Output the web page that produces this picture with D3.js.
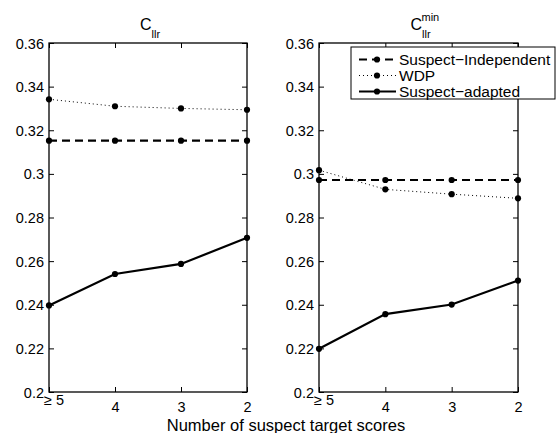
<!DOCTYPE html>
<html>
<head>
<meta charset="utf-8">
<title>Cllr vs number of suspect target scores</title>
<script src="https://d3js.org/d3.v7.min.js"></script>
<style>
  body { margin: 0; background: #fff; }
  svg text, svg tspan { font-family: "Liberation Sans", Arial, sans-serif; fill: #000; }
</style>
</head>
<body>
<div id="chart"></div>
<script>
// categories on the x axis
const categories = ["≥ 5", "4", "3", "2"];
const yTicks = [0.2, 0.22, 0.24, 0.26, 0.28, 0.3, 0.32, 0.34, 0.36];

// left panel: Cllr
const cllrIndependent = [0.3152, 0.3152, 0.3152, 0.3152];
const cllrWDP = [0.3342, 0.331, 0.3300, 0.3294];
const cllrAdapted = [0.2397, 0.2541, 0.2587, 0.2707];

// right panel: Cllr min
const minIndependent = [0.2972, 0.2972, 0.2972, 0.2972];
const minWDP = [0.3017, 0.2929, 0.2907, 0.2888];
const minAdapted = [0.2198, 0.2357, 0.2401, 0.2511];

const seriesNames = ["Suspect\u2212Independent", "WDP", "Suspect\u2212adapted"];
const seriesStyle = [
  {width: 2.2, dash: "8,5", color: "#000"},
  {width: 1, dash: "1,3", color: "#000"},
  {width: 2.2, dash: null, color: "#000"}
];

const W = 558, H = 433;
const svg = d3.select("#chart").append("svg").attr("width", W).attr("height", H);

const plotTop = 43, plotBottom = 392;
const y = d3.scaleLinear().domain([0.2, 0.36]).range([plotBottom, plotTop]);

function panel(x0, x1, series, titleSub, titleSup) {
  const x = d3.scalePoint().domain(categories).range([x0, x1]);
  const g = svg.append("g");

  // lines and markers
  series.forEach((vals, i) => {
    const st = seriesStyle[i];
    const line = d3.line().x((d, j) => x(categories[j])).y(d => y(d));
    g.append("path").datum(vals)
      .attr("d", line).attr("fill", "none")
      .attr("stroke", st.color).attr("stroke-width", st.width)
      .attr("stroke-dasharray", st.dash);
    g.selectAll(null).data(vals).enter().append("circle")
      .attr("cx", (d, j) => x(categories[j])).attr("cy", d => y(d))
      .attr("r", 3.1).attr("fill", "#000");
  });

  // box
  g.append("rect").attr("x", x0).attr("y", plotTop)
    .attr("width", x1 - x0).attr("height", plotBottom - plotTop)
    .attr("fill", "none").attr("stroke", "#000").attr("stroke-width", 1.3);

  // y axis (ticks inside)
  const yl = g.append("g").attr("transform", `translate(${x0},0)`)
    .call(d3.axisLeft(y).tickValues(yTicks).tickSize(-5).tickPadding(5)
      .tickFormat(d => d3.format("")(+d.toFixed(2))));
  yl.select(".domain").remove();
  yl.selectAll("text").attr("font-size", 14.5).attr("dy", "0.35em");
  const yr = g.append("g").attr("transform", `translate(${x1},0)`)
    .call(d3.axisRight(y).tickValues(yTicks).tickSize(-5).tickFormat(""));
  yr.select(".domain").remove();

  // x axis
  const xb = g.append("g").attr("transform", `translate(0,${plotBottom})`)
    .call(d3.axisBottom(x).tickSize(-5).tickPadding(0));
  xb.select(".domain").remove();
  xb.selectAll("text").attr("font-size", 14.5)
    .attr("dx", d => d === categories[0] ? 4.5 : 0)
    .attr("y", d => d === categories[0] ? 13 : 19.5)
    .attr("dy", null);
  const xt = g.append("g").attr("transform", `translate(0,${plotTop})`)
    .call(d3.axisTop(x).tickSize(-5).tickFormat(""));
  xt.select(".domain").remove();
  g.selectAll(".tick line").attr("stroke", "#000").attr("stroke-width", 1);

  // title
  const cx = (x0 + x1) / 2;
  const t = g.append("text").attr("x", cx - 8).attr("y", 30).attr("font-size", 16);
  t.append("tspan").text("C");
  t.append("tspan").attr("font-size", 11).attr("dy", 7.5).text(titleSub);
  if (titleSup) {
    g.append("text").attr("x", cx + 3).attr("y", 21).attr("font-size", 11).text(titleSup);
  }
}

panel(49, 247, [cllrIndependent, cllrWDP, cllrAdapted], "llr", null);
panel(319, 518, [minIndependent, minWDP, minAdapted], "llr", "min");

// legend
const lg = svg.append("g");
lg.append("rect").attr("x", 351).attr("y", 47).attr("width", 204).attr("height", 52)
  .attr("fill", "#fff").attr("stroke", "#000").attr("stroke-width", 1);
seriesNames.forEach((name, i) => {
  const st = seriesStyle[i];
  const ly = 59.5 + i * 16;
  lg.append("line").attr("x1", 359).attr("x2", 396).attr("y1", ly).attr("y2", ly)
    .attr("stroke", st.color).attr("stroke-width", st.width)
    .attr("stroke-dasharray", st.dash);
  lg.append("circle").attr("cx", 377).attr("cy", ly).attr("r", 3.1).attr("fill", "#000");
  lg.append("text").attr("x", 399).attr("y", ly).attr("dy", "0.36em")
    .attr("font-size", 15.5).text(name);
});

// x axis label
svg.append("text").attr("x", 286).attr("y", 431).attr("text-anchor", "middle")
  .attr("font-size", 16.5).text("Number of suspect target scores");
</script>
</body>
</html>
